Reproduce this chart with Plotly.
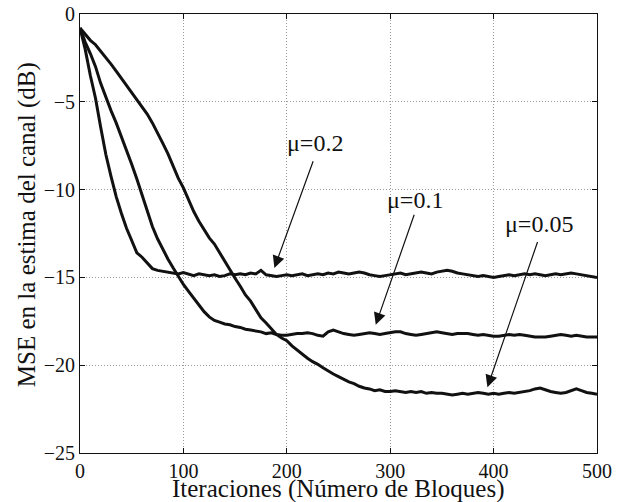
"""MSE de la estimación del canal frente a iteraciones, para tres pasos mu."""

import plotly.graph_objects as go

iteraciones = list(range(0, 501, 5))

mse_mu_02 = [
    -0.8, -2.0, -3.5, -4.8, -6.45, -8.0, -9.25, -10.4, -11.35, -12.2,
    -12.9, -13.6, -13.85, -14.2, -14.5, -14.6, -14.65, -14.7, -14.75, -14.8,
    -14.72, -14.8, -14.9, -14.8, -14.85, -14.9, -14.85, -14.95, -14.9, -14.8,
    -14.85, -14.8, -14.85, -14.75, -14.8, -14.6, -14.85, -14.9, -14.95, -14.9,
    -14.85, -14.9, -14.85, -14.8, -14.9, -14.85, -14.8, -14.85, -14.75, -14.8,
    -14.7, -14.75, -14.8, -14.75, -14.7, -14.75, -14.85, -14.9, -14.95, -14.9,
    -14.85, -14.8, -14.75, -14.85, -14.8, -14.75, -14.7, -14.75, -14.8, -14.7,
    -14.65, -14.6, -14.65, -14.75, -14.8, -14.85, -14.9, -14.95, -14.9, -14.95,
    -15.0, -14.95, -14.9, -14.85, -14.9, -14.85, -14.8, -14.85, -14.8, -14.85,
    -14.9, -14.85, -14.8, -14.85, -14.8, -14.75, -14.8, -14.85, -14.9, -14.95,
    -15.0,
]

mse_mu_01 = [
    -0.8, -1.6, -2.25, -3.0, -3.95, -4.75, -5.5, -6.2, -6.95, -7.75,
    -8.55, -9.4, -10.3, -11.3, -12.1, -12.8, -13.4, -13.95, -14.45, -14.95,
    -15.4, -15.8, -16.2, -16.6, -16.95, -17.25, -17.45, -17.55, -17.65, -17.7,
    -17.8, -17.85, -17.95, -18.0, -18.05, -18.1, -18.2, -18.15, -18.25, -18.3,
    -18.3, -18.25, -18.2, -18.2, -18.15, -18.2, -18.3, -18.35, -18.1, -18.0,
    -18.1, -18.2, -18.25, -18.3, -18.25, -18.2, -18.15, -18.2, -18.25, -18.2,
    -18.15, -18.1, -18.1, -18.2, -18.25, -18.3, -18.25, -18.2, -18.15, -18.1,
    -18.15, -18.2, -18.25, -18.2, -18.2, -18.2, -18.25, -18.3, -18.25, -18.3,
    -18.35, -18.35, -18.3, -18.25, -18.3, -18.25, -18.3, -18.35, -18.4, -18.4,
    -18.4, -18.35, -18.3, -18.25, -18.3, -18.35, -18.3, -18.35, -18.4, -18.4,
    -18.4,
]

mse_mu_005 = [
    -0.8, -1.15, -1.5, -1.75, -2.1, -2.45, -2.85, -3.25, -3.65, -4.05,
    -4.45, -4.85, -5.25, -5.7, -6.2, -6.75, -7.35, -7.95, -8.65, -9.35,
    -9.9, -10.6, -11.25, -11.8, -12.3, -12.75, -13.1, -13.6, -14.1, -14.6,
    -15.05, -15.5, -16.0, -16.35, -16.85, -17.3, -17.6, -17.95, -18.25, -18.45,
    -18.6, -18.9, -19.15, -19.4, -19.6, -19.8, -19.95, -20.15, -20.35, -20.5,
    -20.65, -20.8, -20.95, -21.05, -21.2, -21.3, -21.35, -21.45, -21.4, -21.5,
    -21.5, -21.45, -21.5, -21.55, -21.5, -21.55, -21.5, -21.6, -21.55, -21.6,
    -21.6, -21.65, -21.7, -21.65, -21.6, -21.65, -21.6, -21.55, -21.6, -21.65,
    -21.6, -21.65, -21.6, -21.55, -21.6, -21.55, -21.5, -21.45, -21.35, -21.3,
    -21.4, -21.5, -21.55, -21.6, -21.55, -21.45, -21.35, -21.45, -21.55, -21.6,
    -21.65,
]

# etiqueta, punta de la flecha (x, y), cola de la flecha (x, y), centro del texto (x, y)
etiquetas = [
    ("\u03bc=0.2", (188, -14.46), (226, -8.3), (227, -7.35)),
    ("\u03bc=0.1", (286, -17.7), (323.7, -11.35), (323.7, -10.6)),
    ("\u03bc=0.05", (394, -21.25), (443, -12.9), (443.5, -11.96)),
]

FONT = "Times New Roman"
NEGRO = "#111111"

fig = go.Figure()

for serie in (mse_mu_02, mse_mu_01, mse_mu_005):
    fig.add_trace(
        go.Scatter(
            x=iteraciones,
            y=serie,
            mode="lines",
            line=dict(color=NEGRO, width=3),
            showlegend=False,
            hoverinfo="skip",
        )
    )

for texto, punta, cola, centro in etiquetas:
    fig.add_annotation(
        x=punta[0],
        y=punta[1],
        ax=cola[0],
        ay=cola[1],
        xref="x",
        yref="y",
        axref="x",
        ayref="y",
        text="",
        showarrow=True,
        arrowhead=2,
        arrowsize=2,
        arrowwidth=1.2,
        arrowcolor=NEGRO,
    )
    fig.add_annotation(
        x=centro[0],
        y=centro[1],
        xref="x",
        yref="y",
        text=texto,
        showarrow=False,
        font=dict(family=FONT, size=24, color=NEGRO),
    )

# títulos de los ejes como anotaciones para fijar su posición
fig.add_annotation(
    x=0.5,
    y=-0.082,
    xref="paper",
    yref="paper",
    text="Iteraciones (Número de Bloques)",
    showarrow=False,
    yanchor="middle",
    font=dict(family=FONT, size=25, color=NEGRO),
)
fig.add_annotation(
    x=-0.1025,
    y=0.519,
    xref="paper",
    yref="paper",
    text="MSE en la estima del canal (dB)",
    showarrow=False,
    textangle=-90,
    xanchor="center",
    yanchor="middle",
    font=dict(family=FONT, size=25, color=NEGRO),
)

eje = dict(
    showline=True,
    linecolor=NEGRO,
    linewidth=1,
    mirror="ticks",
    ticks="inside",
    ticklen=5,
    tickcolor=NEGRO,
    showgrid=True,
    gridcolor="#9a9a9a",
    griddash="1px,2px",
    gridwidth=1,
    zeroline=False,
    automargin=False,
    tickfont=dict(family=FONT, size=20, color=NEGRO),
)

fig.update_layout(
    width=627,
    height=502,
    margin=dict(l=80, r=30, t=14, b=49),
    plot_bgcolor="white",
    paper_bgcolor="white",
    font=dict(family=FONT),
    xaxis=dict(eje, range=[0, 500], dtick=100),
    yaxis=dict(eje, range=[-25, 0], dtick=5),
)

fig.write_html(
    "out.html",
    config={"displayModeBar": False},
    post_script="document.body.style.margin='0';",
)
